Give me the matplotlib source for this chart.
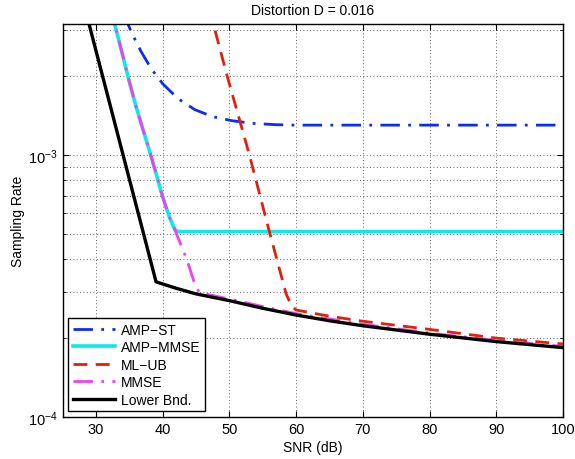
import matplotlib
matplotlib.use("Agg")
import matplotlib.pyplot as plt
from matplotlib.ticker import LogLocator, NullFormatter, FixedLocator

plt.rcParams['font.family'] = ['Liberation Sans', 'DejaVu Sans']
plt.rcParams['mathtext.default'] = 'regular'

# --- data ---
snr_st = [34.0, 34.8, 35.3, 36.8, 38.3, 40.0, 42.3, 44.8, 47.5, 50.5, 53.5, 57.0, 60.0,
          70.0, 80.0, 90.0, 100.0]
amp_st = [3.5e-3, 3.16e-3, 2.94e-3, 2.47e-3, 2.13e-3, 1.87e-3, 1.64e-3, 1.49e-3, 1.40e-3,
          1.35e-3, 1.32e-3, 1.305e-3, 1.30e-3, 1.30e-3, 1.30e-3, 1.30e-3, 1.30e-3]

snr_mmse_amp = [32.0, 32.8, 34.0, 35.0, 36.0, 37.0, 38.0, 39.0, 40.0, 41.0, 41.8, 42.3,
                50.0, 60.0, 70.0, 80.0, 90.0, 100.0]
amp_mmse = [3.8e-3, 3.16e-3, 2.4e-3, 1.9e-3, 1.53e-3, 1.26e-3, 1.04e-3, 8.5e-4, 6.9e-4, 5.8e-4,
            5.2e-4, 5.1e-4, 5.1e-4, 5.1e-4, 5.1e-4, 5.1e-4, 5.1e-4, 5.1e-4]

snr_ml = [47.0, 49.55, 53.0, 55.9, 58.5, 59.3, 60.0, 64.8, 70.0, 80.0, 90.0, 100.0]
ml_ub = [3.6e-3, 2.05e-3, 1.0e-3, 5.2e-4, 2.95e-4, 2.66e-4, 2.56e-4, 2.43e-4, 2.32e-4, 2.16e-4,
         2.0e-4, 1.90e-4]

snr_mmse = [32.0, 32.8, 34.0, 35.0, 36.0, 37.0, 38.0, 39.0, 40.0, 41.0, 41.8, 43.6, 44.8,
            45.5, 50.0, 55.0, 60.0, 70.0, 80.0, 90.0, 100.0]
mmse = [3.8e-3, 3.16e-3, 2.4e-3, 1.9e-3, 1.53e-3, 1.26e-3, 1.04e-3, 8.5e-4, 6.9e-4, 5.8e-4,
        5.2e-4, 4.0e-4, 3.22e-4, 2.98e-4, 2.82e-4, 2.64e-4, 2.48e-4, 2.26e-4, 2.09e-4, 1.96e-4,
        1.86e-4]

snr_lb = [28.5, 39.0, 42.0, 45.0, 50.0, 55.0, 60.0, 65.0, 70.0, 80.0, 90.0, 100.0]
lower_bnd = [3.5e-3, 3.28e-4, 3.1e-4, 2.95e-4, 2.78e-4, 2.6e-4, 2.45e-4, 2.33e-4, 2.23e-4,
             2.07e-4, 1.94e-4, 1.84e-4]

# --- plot ---
fig = plt.figure(figsize=(5.75, 4.6), dpi=100)
ax = fig.add_axes([0.109, 0.0913, 0.870, 0.8544])

ax.plot(snr_st, amp_st, color='#0a2ef0', lw=2.0, dashes=(7, 3, 1, 3), label='AMP\u2212ST')
ax.plot(snr_mmse_amp, amp_mmse, color='#10e8e8', lw=2.6, label='AMP\u2212MMSE')
ax.plot(snr_ml, ml_ub, color='#e0200c', lw=2.0, dashes=(5, 3), label='ML\u2212UB')
ax.plot(snr_mmse, mmse, color='#f040f0', lw=2.0, dashes=(7, 3, 1, 3), label='MMSE')
ax.plot(snr_lb, lower_bnd, color='black', lw=2.4, label='Lower Bnd.')

ax.set_yscale('log')
ax.set_xlim(25, 100)
ax.set_ylim(1e-4, 10 ** -2.5)
ax.xaxis.set_major_locator(FixedLocator([30, 40, 50, 60, 70, 80, 90, 100]))
ax.yaxis.set_major_locator(LogLocator(base=10))
ax.yaxis.set_minor_locator(LogLocator(base=10, subs=range(2, 10)))
ax.yaxis.set_minor_formatter(NullFormatter())

ax.grid(True, which='major', color='#333333', linestyle=(0, (1, 3)), lw=0.6)
ax.grid(True, which='minor', axis='y', color='#333333', linestyle=(0, (1, 3)), lw=0.6)
ax.tick_params(which='both', direction='in', top=True, right=True, labelsize=10.5)
ax.tick_params(which='major', length=4)
ax.tick_params(which='minor', length=2)
for s in ax.spines.values():
    s.set_linewidth(1.0)

ax.set_xlabel('SNR (dB)', fontsize=10, labelpad=3)
ax.set_ylabel('Sampling Rate', fontsize=10, labelpad=2)
ax.set_title('Distortion D = 0.016', fontsize=10, pad=7)

leg = ax.legend(loc='lower left', fontsize=10, fancybox=False, framealpha=1,
                edgecolor='black', handlelength=3.0, borderpad=0.35, labelspacing=0.25,
                handletextpad=0.45, borderaxespad=0.4)
leg.get_frame().set_linewidth(1.0)

fig.savefig('out.png', dpi=100)
